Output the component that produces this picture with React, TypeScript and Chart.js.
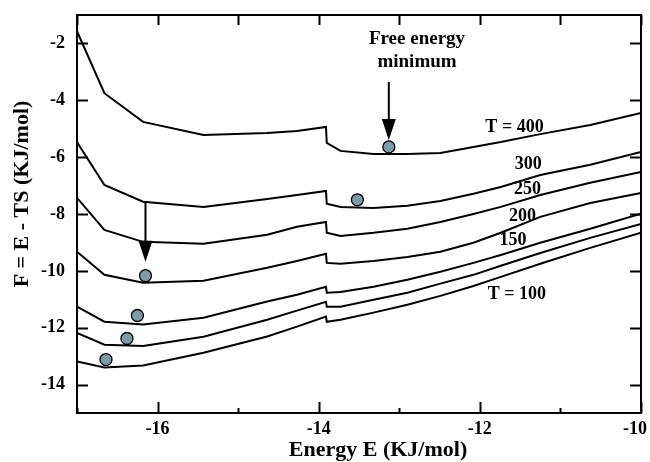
import React, { useEffect, useRef } from 'react';
import { Chart, registerables } from 'chart.js';

Chart.register(...registerables);

// Energy grid (KJ/mol); the repeated value near -13.9 is the step in every curve
const energy = [-17, -16.66, -16.18, -15.43, -14.64, -14.27, -13.91, -13.9, -13.73, -13.32, -12.9, -12.49, -12.08, -11.74, -11.25, -10.63, -10.0];

// Free energy F = E - TS for each temperature
const fT400 = [-1.57, -3.75, -4.76, -5.22, -5.15, -5.08, -4.94, -5.5, -5.78, -5.89, -5.89, -5.85, -5.64, -5.47, -5.19, -4.87, -4.45];
const fT300 = [-5.47, -6.98, -7.57, -7.75, -7.47, -7.33, -7.19, -7.64, -7.75, -7.79, -7.71, -7.54, -7.29, -7.05, -6.63, -6.27, -5.82];
const fT250 = [-7.43, -8.56, -8.98, -9.05, -8.73, -8.45, -8.28, -8.66, -8.77, -8.66, -8.52, -8.28, -8.0, -7.75, -7.33, -6.9, -6.52];
const fT200 = [-9.33, -10.14, -10.42, -10.35, -9.89, -9.65, -9.4, -9.72, -9.75, -9.65, -9.51, -9.33, -9.01, -8.66, -8.1, -7.61, -7.26];
const fT150 = [-11.26, -11.79, -11.89, -11.65, -11.08, -10.84, -10.56, -10.77, -10.74, -10.56, -10.31, -10.03, -9.72, -9.44, -9.01, -8.52, -7.99];
const fUnlabeled = [-12.18, -12.6, -12.64, -12.32, -11.72, -11.4, -11.09, -11.26, -11.26, -11.02, -10.77, -10.45, -10.14, -9.82, -9.37, -8.84, -8.35];
const fT100 = [-13.19, -13.4, -13.33, -12.88, -12.31, -11.96, -11.61, -11.79, -11.72, -11.47, -11.19, -10.88, -10.53, -10.21, -9.75, -9.19, -8.66];

// Free-energy minima markers
const minE = [-13.13, -13.52, -16.15, -16.25, -16.38, -16.64];
const minF = [-5.64, -7.5, -10.17, -11.57, -12.38, -13.12];

// Arrows (x, start y, tip y)
const arrowE = [-13.13, -16.15];
const arrowFrom = [-3.36, -7.61];
const arrowTo = [-5.4, -9.68];

// Curve labels
const curveLabels = ['T = 400', '300', '250', '200', '150', 'T = 100'];
const curveLabelE = [-11.57, -11.4, -11.41, -11.47, -11.59, -11.54];
const curveLabelF = [-4.94, -6.27, -7.15, -8.1, -8.91, -10.84];

// Annotation text
const noteLines = ['Free energy', 'minimum'];
const noteE = -12.78;
const noteF = [-1.85, -2.66];

// Axis labelled tick values
const xTickLabels = [-16, -14, -12, -10];
const yTickLabels = [-2, -4, -6, -8, -10, -12, -14];

const xTitle = 'Energy E (KJ/mol)';
const yTitle = 'F = E - TS (KJ/mol)';

const series = [fT400, fT300, fT250, fT200, fT150, fUnlabeled, fT100];

const SERIF = '"Liberation Serif", "Times New Roman", serif';

const decorPlugin = {
  id: 'decor',
  afterDraw(chart: any) {
    const { ctx, chartArea: a, width: cw } = chart;
    const x = chart.scales.x;
    const y = chart.scales.y;
    ctx.save();
    ctx.strokeStyle = '#000';
    ctx.fillStyle = '#000';
    ctx.lineWidth = 2;
    ctx.strokeRect(a.left, a.top, a.right - a.left, a.bottom - a.top);

    // x ticks (inward, bottom & top)
    ctx.beginPath();
    x.ticks.forEach((t: any) => {
      const px = Math.round(x.getPixelForValue(t.value)) + 0.5;
      const major = Math.abs(t.value % 2) < 1e-9;
      ctx.moveTo(px, a.bottom);
      ctx.lineTo(px, a.bottom - (major ? 11 : 5));
      ctx.moveTo(px, a.top);
      ctx.lineTo(px, a.top + 10);
    });
    // y ticks (inward, left & right)
    y.ticks.forEach((t: any) => {
      if (Math.abs(t.value % 2) > 1e-9) return;
      const py = Math.round(y.getPixelForValue(t.value)) + 0.5;
      ctx.moveTo(a.left, py);
      ctx.lineTo(a.left + 11, py);
      ctx.moveTo(a.right, py);
      ctx.lineTo(a.right - 11, py);
    });
    ctx.stroke();

    // tick labels
    ctx.font = 'bold 18px ' + SERIF;
    ctx.textBaseline = 'middle';
    ctx.textAlign = 'center';
    xTickLabels.forEach((v) => {
      const s = String(v);
      const w = ctx.measureText(s).width;
      let cx = x.getPixelForValue(v);
      if (cx + w / 2 > cw - 3) cx = cw - 3 - w / 2;
      ctx.fillText(s, cx, a.bottom + 16);
    });
    ctx.textAlign = 'right';
    yTickLabels.forEach((v) => {
      ctx.fillText(String(v), a.left - 12, y.getPixelForValue(v));
    });

    // arrows
    arrowE.forEach((e, i) => {
      const px = x.getPixelForValue(e);
      const p1 = y.getPixelForValue(arrowFrom[i]);
      const p2 = y.getPixelForValue(arrowTo[i]);
      ctx.lineWidth = 2;
      ctx.beginPath();
      ctx.moveTo(px, p1);
      ctx.lineTo(px, p2 - 18);
      ctx.stroke();
      ctx.beginPath();
      ctx.moveTo(px, p2);
      ctx.lineTo(px - 7, p2 - 21);
      ctx.lineTo(px + 7, p2 - 21);
      ctx.closePath();
      ctx.fill();
    });

    ctx.textAlign = 'center';
    ctx.textBaseline = 'middle';
    ctx.font = 'bold 18px ' + SERIF;
    curveLabels.forEach((s, i) => {
      ctx.fillText(s, x.getPixelForValue(curveLabelE[i]), y.getPixelForValue(curveLabelF[i]));
    });
    ctx.font = 'bold 19px ' + SERIF;
    noteLines.forEach((s, i) => {
      ctx.fillText(s, x.getPixelForValue(noteE), y.getPixelForValue(noteF[i]));
    });

    // axis titles
    ctx.font = 'bold 22px ' + SERIF;
    ctx.fillText(xTitle, 378, 450);
    ctx.save();
    ctx.translate(22, 194);
    ctx.rotate(-Math.PI / 2);
    ctx.fillText(yTitle, 0, 0);
    ctx.restore();
    ctx.restore();
  },
};

export default function App() {
  const ref = useRef<HTMLCanvasElement | null>(null);
  useEffect(() => {
    if (!ref.current) return;
    const datasets: any[] = series.map((f) => ({
      type: 'line',
      data: energy.map((e, i) => ({ x: e, y: f[i] })),
      borderColor: '#000',
      borderWidth: 2,
      pointRadius: 0,
      tension: 0,
      fill: false,
    }));
    datasets.push({
      type: 'scatter',
      data: minE.map((e, i) => ({ x: e, y: minF[i] })),
      backgroundColor: '#7f9ca4',
      borderColor: '#000',
      borderWidth: 1.3,
      pointRadius: 6,
      showLine: false,
    });
    const chart = new Chart(ref.current, {
      type: 'line',
      data: { datasets },
      options: {
        animation: false,
        responsive: false,
        events: [],
        layout: { padding: { left: 0, top: 15, right: 9, bottom: 0 } },
        plugins: { legend: { display: false }, tooltip: { enabled: false }, title: { display: false } },
        scales: {
          x: {
            type: 'linear',
            min: -17,
            max: -10,
            grid: { display: false, drawTicks: false },
            border: { display: false },
            afterFit: (s: any) => { s.height = 49; },
            ticks: { stepSize: 1, autoSkip: false, display: false },
          },
          y: {
            type: 'linear',
            min: -15,
            max: -1,
            grid: { display: false, drawTicks: false },
            border: { display: false },
            afterFit: (s: any) => { s.width = 77; },
            ticks: { stepSize: 1, autoSkip: false, display: false },
          },
        },
      },
      plugins: [decorPlugin],
    } as any);
    return () => chart.destroy();
  }, []);
  return (
    <div style={{ position: 'absolute', left: 0, top: 0, width: 650, height: 462, background: '#fff' }}>
      <canvas ref={ref} width={650} height={462} style={{ display: 'block' }} />
    </div>
  );
}
